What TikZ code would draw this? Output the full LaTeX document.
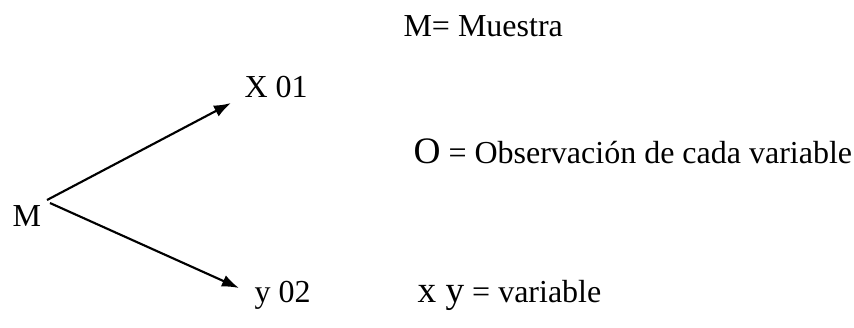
\documentclass[tikz,border=0pt]{standalone}
\usepackage{fontspec}
\setmainfont{Liberation Serif}
\usetikzlibrary{arrows.meta}

\begin{document}
\begin{tikzpicture}[x=0.375pt,y=-0.375pt,>={Latex[length=6.4pt,width=4.6pt]},
  lbl/.style={anchor=base west,inner sep=0pt,font=\fontsize{12pt}{14pt}\selectfont},
  arr/.style={->,line width=0.8pt}]
  \useasboundingbox (0,0) rectangle (854,327);

  % Sample and the two observed variables
  \node[lbl] (m) at (12,226) {M};
  \coordinate (mu) at (47,200);
  \coordinate (md) at (50,203);
  \node[lbl] (x) at (244,97) {X 01};
  \node[lbl] (y) at (254,302) {y 02};
  \coordinate (xt) at (231,103);
  \coordinate (yt) at (239,288);

  \draw[arr] (mu) -- (xt);
  \draw[arr] (md) -- (yt);

  % Legend
  \node[lbl] (leg1) at (403,36) {M= Muestra};
  \node[lbl] (leg2) at (413,163) {{\fontsize{14pt}{16pt}\selectfont O} = Observación de cada variable};
  \node[lbl] (leg3) at (417,302) {{\fontsize{14pt}{16pt}\selectfont x y} = variable};
\end{tikzpicture}
\end{document}
